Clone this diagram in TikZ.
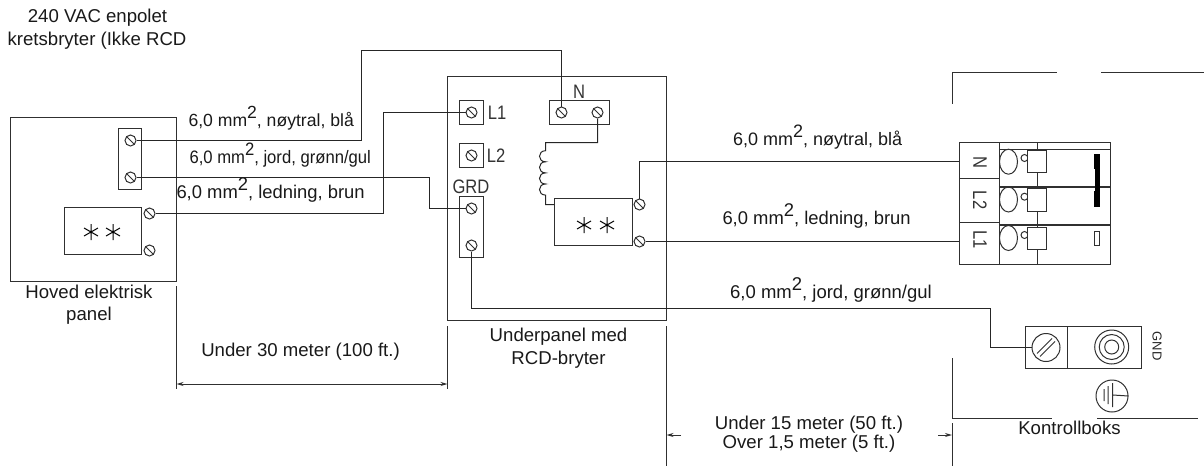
\documentclass[tikz,border=0pt]{standalone}
\usepackage{fontspec}
\setmainfont{Liberation Sans}
\usetikzlibrary{arrows.meta,shapes.geometric}
\newcommand{\sqm}{mm\raisebox{0.42em}{2}}
\newcommand{\nar}[1]{\scalebox{0.85}[1]{#1}}
\definecolor{ink}{HTML}{303030}
\tikzset{
  x=1pt,y=-1pt,
  every path/.style={line width=1pt},
  lbl/.style={anchor=base,font=\fontsize{18.6}{21}\selectfont,text=black!90,inner sep=0pt,draw=none},
  wl/.style={anchor=base west,text=black!90,inner sep=0pt,draw=none},
  tag/.style={font=\fontsize{19.5}{20}\selectfont,text=black!80,inner sep=0pt,draw=none},
  small/.style={font=\fontsize{13}{15}\selectfont,text=black!85,inner sep=0pt,draw=none},
  blk/.style={draw=ink,line width=1pt,inner sep=0pt,rectangle},
  wire/.style={line width=1pt,draw=ink!80!black},
  dimline/.style={line width=1pt,draw=ink,{Stealth[length=7pt,width=4pt]}-{Stealth[length=7pt,width=4pt]}},
  dimin/.style={line width=1pt,draw=ink,-{Stealth[length=7pt,width=4pt]}},
  screw/.style={circle,draw=ink,line width=1pt,minimum size=11pt,inner sep=0pt,fill=white,
    path picture={\draw[line width=1pt] (path picture bounding box.north west)--(path picture bounding box.south east);}},
  bigscrew/.style={circle,draw=ink,line width=1pt,minimum size=28pt,inner sep=0pt,fill=white,
    path picture={\draw[line width=1pt] ([shift={(-9pt,-6pt)}]path picture bounding box.center)--([shift={(6pt,9pt)}]path picture bounding box.center);
      \draw[line width=1pt] ([shift={(-6pt,-9pt)}]path picture bounding box.center)--([shift={(9pt,6pt)}]path picture bounding box.center);}},
  ring/.style={circle,draw=ink,line width=1pt,inner sep=0pt},
  astar/.pic={\draw[line width=1pt] (0,-8)--(0,8) (-7,-4)--(7,4) (-7,4)--(7,-4);},
}
\begin{document}
\begin{tikzpicture}
\useasboundingbox (0,0) rectangle (1204,466);
% panels
\node[blk,minimum width=166pt,minimum height=164pt] (main) at (93.5,199.5) {};
\node[blk,minimum width=23pt,minimum height=61pt] (mainblock) at (130,159) {};
\node[blk,minimum width=77pt,minimum height=47pt] (mainbrk) at (103,231) {};
\node[blk,minimum width=219pt,minimum height=244pt] (sub) at (557,198.5) {};
\node[blk,minimum width=24pt,minimum height=24pt] (l1b) at (471.5,112.5) {};
\node[blk,minimum width=24pt,minimum height=24pt] (l2b) at (471.5,155.5) {};
\node[blk,minimum width=24pt,minimum height=61pt] (grdb) at (471.5,227) {};
\node[blk,minimum width=60pt,minimum height=24pt] (nb) at (579.5,112.5) {};
\node[blk,minimum width=78pt,minimum height=47pt] (subbrk) at (593.5,222) {};
% screws
\node[screw] (s1) at (130.5,140.5) {};
\node[screw] (s2) at (130.5,177.5) {};
\node[screw] (s3) at (149.5,213.5) {};
\node[screw] (s4) at (149.5,250.5) {};
\node[screw] (l1s) at (471.5,112.5) {};
\node[screw] (l2s) at (471.5,155.5) {};
\node[screw] (g1) at (471.5,208.5) {};
\node[screw] (g2) at (471.5,245.5) {};
\node[screw] (n1) at (561.5,112.5) {};
\node[screw] (n2) at (597.5,112.5) {};
\node[screw] (b1) at (639.5,204.5) {};
\node[screw] (b2) at (639.5,241.5) {};
% stars
\pic at (91,232) {astar};
\pic at (113,232) {astar};
\pic at (584,225) {astar};
\pic at (607,225) {astar};
% right terminal
\node[blk,minimum width=40pt,minimum height=35.5pt] (tn) at (979.5,160.5) {};
\node[blk,minimum width=40pt,minimum height=44.3pt] (tl2) at (979.5,200.2) {};
\node[blk,minimum width=40pt,minimum height=41.7pt] (tl1) at (979.5,243.2) {};
\node[blk,minimum width=111.5pt,minimum height=121.3pt] (tb) at (1055.2,203.4) {};
\draw[line width=1.6pt,draw=ink] (tb.west |- 0,149.3) -- (tb.east |- 0,149.3);
\draw[line width=1.6pt,draw=ink] (tb.west |- 0,186.7) -- (tb.east |- 0,186.7);
\draw[line width=1.6pt,draw=ink] (tb.west |- 0,225) -- (tb.east |- 0,225);
\draw[line width=1.6pt,draw=ink] (tb.south west) -- (tb.south east);
\draw[draw=ink] (1037.3,142.7) -- (1037.3,264);
\foreach \nm/\cy/\sy/\qy in {a/161.7/158/161.3,b/199.5/196.7/200,c/238/235/238.5}{
  \node[ellipse,draw=ink,line width=1pt,minimum width=18pt,minimum height=25pt,inner sep=0pt] (el\nm) at (1008.5,\cy) {};
  \node[circle,draw=ink,line width=1pt,minimum size=7pt,inner sep=0pt] (sm\nm) at (1024.5,\sy) {};
  \node[blk,fill=white,minimum width=18.5pt,minimum height=22.5pt] (sq\nm) at (1036.8,\qy) {};
}
% jumper
\node[fill=black,draw=black,line width=.6pt,minimum width=5pt,minimum height=14pt,inner sep=0pt] (jt) at (1097,161.5) {};
\node[fill=black,draw=black,line width=.6pt,minimum width=4pt,minimum height=24pt,inner sep=0pt] (jm) at (1097,180) {};
\node[fill=black,draw=black,line width=.6pt,minimum width=5pt,minimum height=15pt,inner sep=0pt] (jb) at (1097,199) {};
\node[blk,minimum width=5.5pt,minimum height=13.5pt] (slot) at (1097,238.5) {};
% ground box
\node[blk,minimum width=116pt,minimum height=42pt] (gbox) at (1083.5,347.5) {};
\draw[draw=ink] (1067.5,326.5) -- (1067.5,368.5);
\node[bigscrew] (gs) at (1046,347.5) {};
\node[ring,minimum size=34pt] (r1) at (1111.7,347) {};
\node[ring,minimum size=25pt] (r2) at (1111.7,347) {};
\node[ring,minimum size=14pt] (r3) at (1111.7,347) {};
\node[ring,minimum size=32pt] (earth) at (1112,396) {};
\draw[draw=ink] (1112.7,383)--(1112.7,407) (1108,386)--(1108,404) (1104,389)--(1104,401) (1112.7,395)--(earth.east);
% frame
\coordinate (ctl) at (952,72);
\draw[draw=ink] (952,103.5) -- (ctl) -- (1056.5,72);
\draw[draw=ink] (1101,72) -- (1204,72);
\coordinate (cbl) at (952,418.5);
\draw[draw=ink] (952,358) -- (cbl) -- (1052,418.5);
\draw[draw=ink] (1097,418.5) -- (1198,418.5);
% wires
\coordinate (ncor) at (361.5,50.5);
\coordinate (gcor) at (429.5,177.5);
\coordinate (lcor) at (383.5,213.5);
\coordinate (bcor) at (639.5,161.5);
\coordinate (ecor) at (471.5,308.5);
\coordinate (ecor2) at (990.5,308.5);
\coordinate (ccor) at (545.5,142.5);
\draw[wire] (s1.east) -| (ncor) -| (n1.north);
\draw[wire] (s2.east) -- (gcor) |- (g1.west);
\draw[wire] (s3.east) -- (lcor) |- (l1s.west);
\draw[wire] (b1.north) -- (bcor) -- (tn.west |- bcor);
\draw[wire] (b2.east) -- (tl1.west |- b2.east);
\draw[wire] (g2.south) -- (ecor) -- (ecor2) |- (gs.west);
\draw[wire] (n2.south) |- (ccor) -- (545.5,150.7)
  .. controls +(-8,0) and +(-8,0) .. ++(0,11.1)
  .. controls +(-8,0) and +(-8,0) .. ++(0,11.1)
  .. controls +(-8,0) and +(-8,0) .. ++(0,11.1)
  .. controls +(-8,0) and +(-8,0) .. ++(0,11.1)
  -- (545.5,204.5) -- (subbrk.west |- 0,204.5);
% dimensions
\coordinate (d1t) at (176.5,286); \coordinate (d1b) at (176.5,389);
\coordinate (d2t) at (447.5,326); \coordinate (d2b) at (447.5,389);
\draw[draw=ink] (d1t) -- (d1b);
\draw[draw=ink] (d2t) -- (d2b);
\draw[dimline] (176.5,384) -- (447.5,384);
\coordinate (d3t) at (666.5,326); \coordinate (d3b) at (666.5,466);
\coordinate (d4t) at (952,423); \coordinate (d4b) at (952,466);
\draw[draw=ink] (d3t) -- (d3b);
\draw[draw=ink] (d4t) -- (d4b);
\coordinate (a1) at (681,435); \coordinate (a2) at (938,435);
\draw[dimin] (a1) -- (666.5,435);
\draw[dimin] (a2) -- (952,435);
% text
\node[lbl] (t1) at (97.5,22) {240 VAC enpolet};
\node[lbl] (t2) at (97,45) {kretsbryter (Ikke RCD};
\node[wl,font=\fontsize{17.6}{21}\selectfont] (w1) at (188,126) {6,0 \sqm, nøytral, blå};
\node[wl,font=\fontsize{18}{21}\selectfont] (w2) at (189,163) {\scalebox{0.925}[1]{6,0 \sqm, jord, grønn/gul}};
\node[wl,font=\fontsize{18.4}{21}\selectfont] (w3) at (176,198) {6,0 \sqm, ledning, brun};
\node[wl,font=\fontsize{18}{21}\selectfont] (w4) at (732.5,145) {6,0 \sqm, nøytral, blå};
\node[wl,font=\fontsize{18.4}{21}\selectfont] (w5) at (722,224) {6,0 \sqm, ledning, brun};
\node[wl,font=\fontsize{18.5}{21}\selectfont] (w6) at (729.7,298) {6,0 \sqm, jord, grønn/gul};
\node[lbl] (h1) at (89,298) {Hoved elektrisk};
\node[lbl] (h2) at (89,320.7) {panel};
\node[lbl] (u1) at (558.5,341.7) {Underpanel med};
\node[lbl] (u2) at (558.5,364) {RCD-bryter};
\node[lbl] (d30) at (300.5,356) {Under 30 meter (100 ft.)};
\node[lbl] (d15) at (809,429.3) {Under 15 meter (50 ft.)};
\node[lbl] (d5) at (809,448.3) {Over 1,5 meter (5 ft.)};
\node[lbl] (kb) at (1069.5,434.3) {Kontrollboks};
\node[tag] (tl1t) at (497,112.5) {\nar{L1}};
\node[tag] (tl2t) at (496,156) {\nar{L2}};
\node[tag] (tgrd) at (471,187) {\nar{GRD}};
\node[tag] (tnt) at (579,92) {\nar{N}};
\node[small,rotate=-90] (gnd) at (1157,346) {GND};
\node[tag,rotate=-90] (xn) at (980,162.5) {\nar{N}};
\node[tag,rotate=-90] (xl2) at (980,200) {\nar{L2}};
\node[tag,rotate=-90] (xl1) at (980,239.5) {\nar{L1}};
\end{tikzpicture}
\end{document}
